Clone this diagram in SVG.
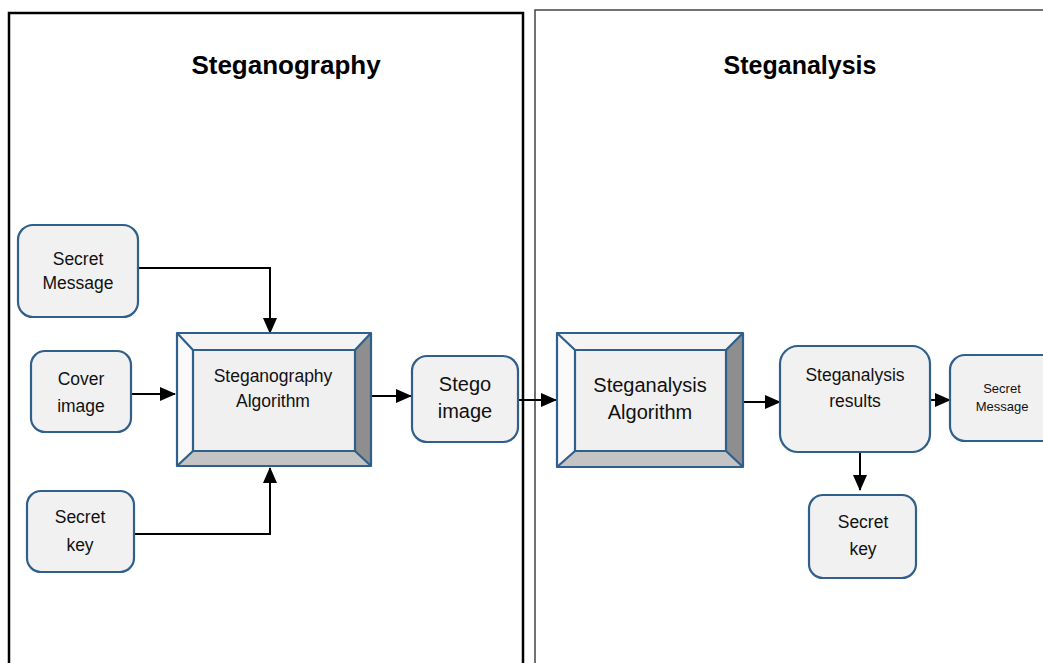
<svg xmlns="http://www.w3.org/2000/svg" width="1043" height="663" viewBox="0 0 1043 663">
  <style>
    .panel-a { fill: none; stroke: #000; stroke-width: 2.5; }
    .panel-b { fill: none; stroke: #444; stroke-width: 1.5; }
    .title { font-family: "Liberation Sans", Arial, sans-serif; font-weight: bold; font-size: 26px; fill: #000; text-anchor: middle; }
    .box { fill: #f1f1f1; stroke: #2f5f8a; stroke-width: 2.2; }
    .lbl { font-family: "Liberation Sans", Arial, sans-serif; font-size: 17.5px; fill: #111; text-anchor: middle; }
    .bevel-edge { stroke: #2f5f8a; stroke-width: 2.2; stroke-linejoin: round; }
    .face-top { fill: #f4f4f4; }
    .face-left { fill: #fafafa; }
    .face-right { fill: #8e8e8e; }
    .face-bottom { fill: #c4c4c4; }
    .face-inner { fill: #f0f0f0; }
    .wire { fill: none; stroke: #000; stroke-width: 2; marker-end: url(#head); }
  </style>
  <defs>
    <marker id="head" markerUnits="userSpaceOnUse" markerWidth="16" markerHeight="16" viewBox="0 0 16 16" refX="15" refY="8" orient="auto">
      <path d="M0,1 L16,8 L0,15 Z" fill="#000"/>
    </marker>
  </defs>

  <rect width="1043" height="663" fill="#fff"/>

  <!-- panels -->
  <g id="panel-steganography">
    <rect class="panel-a" x="9" y="13" width="514" height="700"/>
    <text class="title" x="286" y="74">Steganography</text>
  </g>
  <g id="panel-steganalysis">
    <path class="panel-b" d="M535,700 L535,10 L1050,10"/>
    <text class="title" x="800" y="74" style="font-size:25px">Steganalysis</text>
  </g>

  <!-- connectors -->
  <g id="connectors">
    <path class="wire" d="M138,268 L270,268 L270,333"/>
    <path class="wire" d="M131,394 L175,394"/>
    <path class="wire" d="M134,534 L270,534 L270,468"/>
    <path class="wire" d="M371,396 L411,396"/>
    <path class="wire" d="M518,400 L556,400"/>
    <path class="wire" d="M743,402 L780,402"/>
    <path class="wire" d="M930,400 L950,400"/>
    <path class="wire" d="M860,452 L860,490"/>
  </g>

  <g id="secret-message-in">
    <rect class="box" x="18" y="225" width="120" height="92" rx="15"/>
    <text class="lbl" x="78" y="265">Secret</text>
    <text class="lbl" x="78" y="289">Message</text>
  </g>

  <g id="cover-image">
    <rect class="box" x="31" y="351" width="100" height="81" rx="14"/>
    <text class="lbl" x="81" y="385">Cover</text>
    <text class="lbl" x="81" y="412">image</text>
  </g>

  <g id="secret-key-in">
    <rect class="box" x="27" y="491" width="107" height="81" rx="14"/>
    <text class="lbl" x="80" y="523">Secret</text>
    <text class="lbl" x="80" y="551">key</text>
  </g>

  <g id="steganography-algorithm">
    <polygon class="face-top" points="177,333 371,333 355,350 193,350"/>
    <polygon class="face-left" points="177,333 193,350 193,451 177,466"/>
    <polygon class="face-right" points="371,333 371,466 355,451 355,350"/>
    <polygon class="face-bottom" points="177,466 371,466 355,451 193,451"/>
    <rect class="face-inner bevel-edge" x="193" y="350" width="162" height="101"/>
    <path class="bevel-edge" d="M177,333 L193,350 M371,333 L355,350 M177,466 L193,451 M371,466 L355,451"/>
    <rect class="bevel-edge" fill="none" x="177" y="333" width="194" height="133"/>
    <text class="lbl" x="273" y="382">Steganography</text>
    <text class="lbl" x="273" y="407">Algorithm</text>
  </g>

  <g id="stego-image">
    <rect class="box" x="412" y="356" width="106" height="86" rx="15"/>
    <text class="lbl" x="465" y="391" style="font-size:20px">Stego</text>
    <text class="lbl" x="465" y="418" style="font-size:20px">image</text>
  </g>

  <g id="steganalysis-algorithm">
    <polygon class="face-top" points="557,333 743,333 726,350 575,350"/>
    <polygon class="face-left" points="557,333 575,350 575,451 557,467"/>
    <polygon class="face-right" points="743,333 743,467 726,451 726,350"/>
    <polygon class="face-bottom" points="557,467 743,467 726,451 575,451"/>
    <rect class="face-inner bevel-edge" x="575" y="350" width="151" height="101"/>
    <path class="bevel-edge" d="M557,333 L575,350 M743,333 L726,350 M557,467 L575,451 M743,467 L726,451"/>
    <rect class="bevel-edge" fill="none" x="557" y="333" width="186" height="134"/>
    <text class="lbl" x="650" y="392" style="font-size:20px">Steganalysis</text>
    <text class="lbl" x="650" y="419" style="font-size:20px">Algorithm</text>
  </g>

  <g id="steganalysis-results">
    <rect class="box" x="780" y="346" width="150" height="106" rx="18"/>
    <text class="lbl" x="855" y="381">Steganalysis</text>
    <text class="lbl" x="855" y="407">results</text>
  </g>

  <g id="secret-message-out">
    <rect class="box" x="950" y="355" width="110" height="86" rx="15"/>
    <text class="lbl" x="1002" y="393" style="font-size:13px">Secret</text>
    <text class="lbl" x="1002" y="411" style="font-size:13px">Message</text>
  </g>

  <g id="secret-key-out">
    <rect class="box" x="809" y="495" width="107" height="83" rx="14"/>
    <text class="lbl" x="863" y="528">Secret</text>
    <text class="lbl" x="863" y="555">key</text>
  </g>
</svg>
